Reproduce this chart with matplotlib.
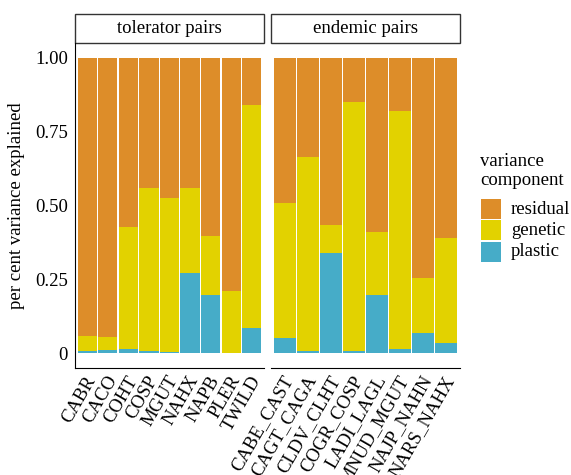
import matplotlib
matplotlib.use("Agg")
import matplotlib.pyplot as plt
import matplotlib.transforms as mtransforms
import numpy as np
from matplotlib.patches import Rectangle

plt.rcParams['font.family'] = ['Liberation Serif', 'DejaVu Serif']

# variance components
tol_pairs = ['CABR', 'CACO', 'COHT', 'COSP', 'MGUT', 'NAHX', 'NAPB', 'PLER', 'TWILD']
tol_plastic = [0.009, 0.010, 0.013, 0.006, 0.003, 0.273, 0.198, 0.000, 0.087]
tol_genetic = [0.051, 0.046, 0.415, 0.554, 0.524, 0.287, 0.200, 0.209, 0.753]

end_pairs = ['CABE_CAST', 'CAGT_CAGA', 'CLDV_CLHT', 'COGR_COSP', 'LADI_LAGL',
             'MNUD_MGUT', 'NAJP_NAHN', 'NARS_NAHX']
end_plastic = [0.053, 0.006, 0.340, 0.006, 0.198, 0.016, 0.067, 0.036]
end_genetic = [0.454, 0.657, 0.095, 0.845, 0.214, 0.804, 0.186, 0.355]

components = ['residual', 'genetic', 'plastic']
colours = {'residual': '#DD8D29', 'genetic': '#E2D200', 'plastic': '#46ACC8'}
panels = ['tolerator pairs', 'endemic pairs']

W, H = 571, 475
fig = plt.figure(figsize=(W / 100, H / 100), dpi=100)

def fbox(x0, x1, y0, y1):
    return [x0 / W, 1 - y1 / H, (x1 - x0) / W, (y1 - y0) / H]

ax1 = fig.add_axes(fbox(75, 264, 43, 368))
ax2 = fig.add_axes(fbox(271, 460, 43, 368))

fs = 13.5
shift = mtransforms.ScaledTranslation(0.05, 0.02, fig.dpi_scale_trans)
for ax, names, pl, ge, title in [(ax1, tol_pairs, tol_plastic, tol_genetic, panels[0]),
                                 (ax2, end_pairs, end_plastic, end_genetic, panels[1])]:
    x = np.arange(len(names))
    pl = np.array(pl)
    ge = np.array(ge)
    re = 1 - pl - ge
    w = 0.935
    ax.bar(x, pl, width=w, color=colours['plastic'], linewidth=0)
    ax.bar(x, ge, width=w, bottom=pl, color=colours['genetic'], linewidth=0)
    ax.bar(x, re, width=w, bottom=pl + ge, color=colours['residual'], linewidth=0)
    ax.set_xlim(-0.6, len(names) - 0.4)
    ax.set_ylim(-0.05, 1.05)
    ax.set_xticks(x)
    ax.set_xticklabels(names, rotation=60, ha='right', va='center',
                       rotation_mode='anchor', fontsize=fs)
    ax.tick_params(axis='x', length=0, pad=8)
    for lab in ax.get_xticklabels():
        lab.set_transform(lab.get_transform() + shift)
    for s in ['top', 'right']:
        ax.spines[s].set_visible(False)
    ax.spines['bottom'].set_linewidth(0.8)
    ax.spines['left'].set_linewidth(0.8)
    # facet strip
    ax.add_patch(Rectangle((0, 1), 1, 29 / 325, transform=ax.transAxes,
                           facecolor='white', edgecolor='#333333', linewidth=1.0,
                           clip_on=False))
    ax.text(0.5, 1 + 14.5 / 325, title, transform=ax.transAxes,
            ha='center', va='center', fontsize=fs)

ax1.set_yticks([0, 0.25, 0.5, 0.75, 1.0])
ax1.set_yticklabels(['0', '0.25', '0.50', '0.75', '1.00'], fontsize=fs)
ax1.tick_params(axis='y', length=0, pad=5)
ax1.set_ylabel('per cent variance explained', fontsize=fs, labelpad=7)
ax2.spines['left'].set_visible(False)
ax2.set_yticks([])

# legend
fig.text(480 / W, 1 - 153 / H, 'variance\ncomponent', ha='left', va='top',
         fontsize=fs, linespacing=1.15)
for i, comp in enumerate(components):
    top = 199 + i * 21.3
    fig.add_artist(Rectangle((481 / W, 1 - (top + 20) / H), 20 / W, 20 / H,
                             transform=fig.transFigure, facecolor=colours[comp],
                             edgecolor='none'))
    fig.text(511 / W, 1 - (top + 10) / H, comp, ha='left', va='center', fontsize=fs)

fig.savefig('out.png', dpi=100)
